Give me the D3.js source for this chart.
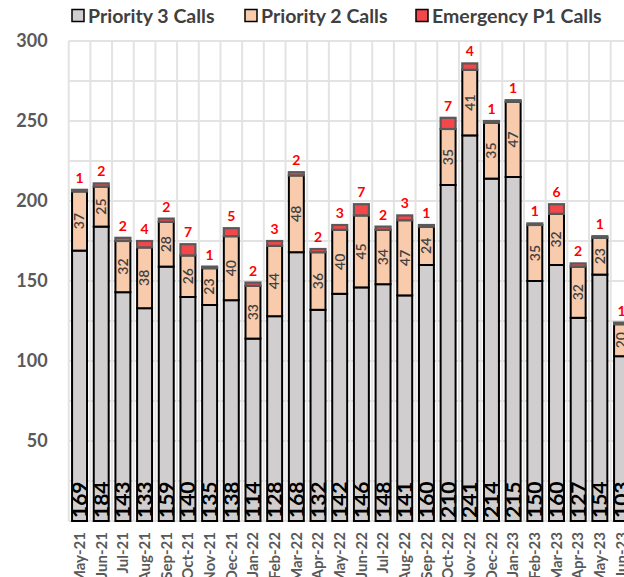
<!DOCTYPE html>
<html>
<head>
<meta charset="utf-8">
<script src="https://cdn.jsdelivr.net/npm/d3@7"></script>
<style>
  html, body { margin: 0; padding: 0; background: #fff; overflow: hidden; }
  svg { display: block; font-family: Lato, "Liberation Sans", sans-serif; }
</style>
</head>
<body>
<svg id="chart" width="624" height="577"></svg>
<script>
// Monthly call counts by priority
const months = ["May-21","Jun-21","Jul-21","Aug-21","Sep-21","Oct-21","Nov-21","Dec-21",
  "Jan-22","Feb-22","Mar-22","Apr-22","May-22","Jun-22","Jul-22","Aug-22","Sep-22","Oct-22",
  "Nov-22","Dec-22","Jan-23","Feb-23","Mar-23","Apr-23","May-23","Jun-23"];
const priority3 = [169,184,143,133,159,140,135,138,114,128,168,132,142,146,148,141,160,210,241,214,215,150,160,127,154,103];
const priority2 = [37,25,32,38,28,26,23,40,33,44,48,36,40,45,34,47,24,35,41,35,47,35,32,32,23,20];
const priority1 = [1,2,2,4,2,7,1,5,2,3,2,2,3,7,2,3,1,7,4,1,1,1,6,2,1,1];
const seriesNames = ["Priority 3 Calls","Priority 2 Calls","Emergency P1 Calls"];
const yTicks = [50,100,150,200,250,300];

const fills = ["#d0cece", "#f8cbad", "#f4474a"];
const strokes = ["#000", "#000", "#595959"];

const svg = d3.select("#chart");
const plotLeft = 68.7, step = 21.68;
const plotRight = plotLeft + step * months.length;
const yBottom = 521, yTop = 41;

const x = d3.scaleBand().domain(months).range([plotLeft, plotRight])
  .paddingInner(0.31).paddingOuter(0.155);
const y = d3.scaleLinear().domain([0, 300]).range([yBottom, yTop]);

// grid
const grid = svg.append("g");
grid.selectAll("line.h").data(d3.range(0, 301, 25)).join("line")
  .attr("x1", plotLeft).attr("x2", plotRight)
  .attr("y1", d => y(d)).attr("y2", d => y(d))
  .attr("stroke", "#e3e3e3").attr("stroke-width", 2);
grid.selectAll("line.v").data(d3.range(0, months.length + 1)).join("line")
  .attr("x1", i => plotLeft + i * step).attr("x2", i => plotLeft + i * step)
  .attr("y1", yTop).attr("y2", yBottom)
  .attr("stroke", "#e3e3e3").attr("stroke-width", 2);

// y axis labels
const yAxis = svg.append("g").attr("transform", `translate(${plotLeft},0)`)
  .call(d3.axisLeft(y).tickValues(yTicks).tickSize(0).tickPadding(21));
yAxis.select(".domain").remove();
yAxis.selectAll("text").attr("font-size", 18).attr("font-weight", "bold")
  .attr("fill", "#595959").attr("font-family", "Lato, sans-serif");

// stacked bars
const rows = months.map((m, i) => ({ month: m, p3: priority3[i], p2: priority2[i], p1: priority1[i] }));
const stack = d3.stack().keys(["p3", "p2", "p1"])(rows);

const bars = svg.append("g");
stack.forEach((layer, k) => {
  bars.append("g").selectAll("rect").data(layer).join("rect")
    .attr("x", d => x(d.data.month))
    .attr("width", x.bandwidth())
    .attr("y", d => y(d[1]))
    .attr("height", d => y(d[0]) - y(d[1]))
    .attr("fill", fills[k])
    .attr("stroke", strokes[k])
    .attr("stroke-width", k === 2 ? 2.2 : 2);
});

// Priority 3 labels at the base
const labels = svg.append("g");
labels.selectAll("text.p3").data(stack[0]).join("text")
  .attr("transform", d => `translate(${x(d.data.month) + x.bandwidth() / 2 + 7.5},${yBottom - 3}) rotate(-90)`)
  .attr("font-size", 21).attr("font-weight", "bold").attr("fill", "#000")
  .text(d => d.data.p3);

// Priority 2 labels centred in their segment
labels.selectAll("text.p2").data(stack[1]).join("text")
  .attr("transform", d => `translate(${x(d.data.month) + x.bandwidth() / 2 + 4.8},${(y(d[0]) + y(d[1])) / 2}) rotate(-90)`)
  .attr("text-anchor", "middle")
  .attr("font-size", 14).attr("font-weight", 600).attr("fill", "#404040")
  .text(d => d.data.p2);

// Emergency labels above the bar
labels.selectAll("text.p1").data(stack[2]).join("text")
  .attr("x", d => x(d.data.month) + x.bandwidth() / 2)
  .attr("y", d => y(d[1]) - 7)
  .attr("text-anchor", "middle")
  .attr("font-size", 14).attr("font-weight", "bold").attr("fill", "#ff0000")
  .text(d => d.data.p1);

// month labels
svg.append("g").selectAll("text").data(months).join("text")
  .attr("transform", m => `translate(${x(m) + x.bandwidth() / 2 + 5.3},532) rotate(-90)`)
  .attr("text-anchor", "end")
  .attr("font-size", 15).attr("font-weight", "bold").attr("fill", "#595959")
  .text(m => m);

// legend
const legendX = [72, 245, 416];
const legend = svg.append("g");
seriesNames.forEach((name, k) => {
  legend.append("rect").attr("x", legendX[k]).attr("y", 9.5).attr("width", 12).attr("height", 12)
    .attr("fill", fills[k]).attr("stroke", "#000").attr("stroke-width", 1.5);
  legend.append("text").attr("x", legendX[k] + 16).attr("y", 22.5)
    .attr("font-size", 19.5).attr("font-weight", "bold").attr("fill", "#404040")
    .text(name);
});
</script>
</body>
</html>
